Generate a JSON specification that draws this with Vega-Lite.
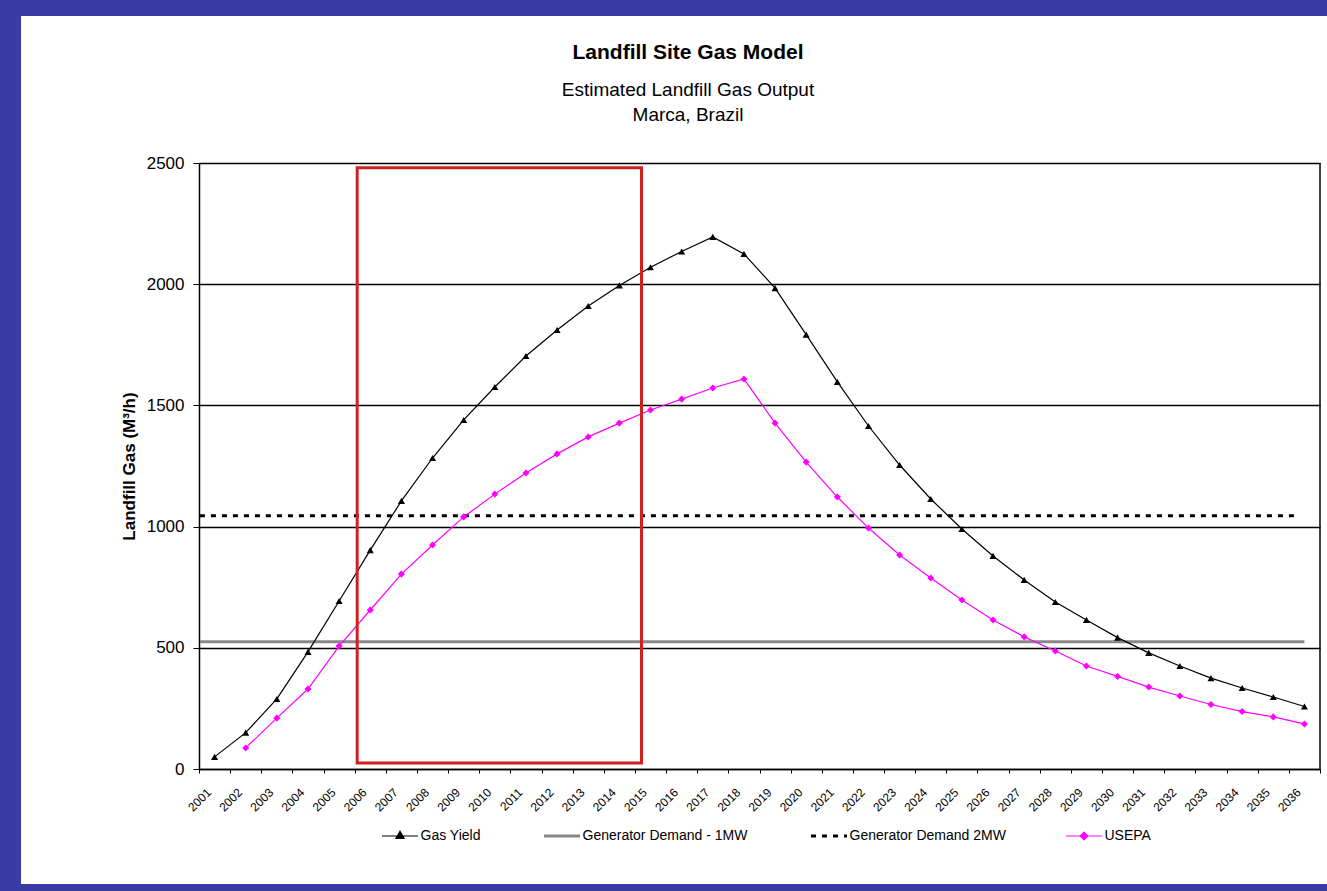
{
  "$schema": "https://vega.github.io/schema/vega-lite/v6.json",
  "width": 1306,
  "height": 868,
  "autosize": {"type": "none"},
  "padding": {"left": 21, "top": 16, "right": 0, "bottom": 7},
  "background": "#3B3BA6",
  "config": {
    "view": {"fill": "#FFFFFF", "stroke": null},
    "font": "Liberation Sans"
  },
  "title": {
    "text": "Landfill Site Gas Model",
    "subtitle": ["Estimated Landfill Gas Output", "Marca, Brazil"],
    "anchor": "middle",
    "frame": "group",
    "offset": -109,
    "dx": 14,
    "font": "Liberation Sans",
    "fontSize": 21,
    "fontWeight": "bold",
    "color": "#000000",
    "subtitleFont": "Liberation Sans",
    "subtitleFontSize": 19,
    "subtitleColor": "#000000",
    "subtitlePadding": 18,
    "subtitleLineHeight": 25
  },
  "datasets": {
    "series": [
      {"year": "2001", "series": "Gas Yield", "value": 50},
      {"year": "2002", "series": "Gas Yield", "value": 150},
      {"year": "2003", "series": "Gas Yield", "value": 289},
      {"year": "2004", "series": "Gas Yield", "value": 483},
      {"year": "2005", "series": "Gas Yield", "value": 693},
      {"year": "2006", "series": "Gas Yield", "value": 903},
      {"year": "2007", "series": "Gas Yield", "value": 1106},
      {"year": "2008", "series": "Gas Yield", "value": 1283},
      {"year": "2009", "series": "Gas Yield", "value": 1440},
      {"year": "2010", "series": "Gas Yield", "value": 1576},
      {"year": "2011", "series": "Gas Yield", "value": 1704},
      {"year": "2012", "series": "Gas Yield", "value": 1811},
      {"year": "2013", "series": "Gas Yield", "value": 1910},
      {"year": "2014", "series": "Gas Yield", "value": 1995},
      {"year": "2015", "series": "Gas Yield", "value": 2070},
      {"year": "2016", "series": "Gas Yield", "value": 2135},
      {"year": "2017", "series": "Gas Yield", "value": 2195},
      {"year": "2018", "series": "Gas Yield", "value": 2125},
      {"year": "2019", "series": "Gas Yield", "value": 1984},
      {"year": "2020", "series": "Gas Yield", "value": 1792},
      {"year": "2021", "series": "Gas Yield", "value": 1597},
      {"year": "2022", "series": "Gas Yield", "value": 1415},
      {"year": "2023", "series": "Gas Yield", "value": 1254},
      {"year": "2024", "series": "Gas Yield", "value": 1114},
      {"year": "2025", "series": "Gas Yield", "value": 990},
      {"year": "2026", "series": "Gas Yield", "value": 879},
      {"year": "2027", "series": "Gas Yield", "value": 780},
      {"year": "2028", "series": "Gas Yield", "value": 689},
      {"year": "2029", "series": "Gas Yield", "value": 615},
      {"year": "2030", "series": "Gas Yield", "value": 542},
      {"year": "2031", "series": "Gas Yield", "value": 479},
      {"year": "2032", "series": "Gas Yield", "value": 425},
      {"year": "2033", "series": "Gas Yield", "value": 375},
      {"year": "2034", "series": "Gas Yield", "value": 334},
      {"year": "2035", "series": "Gas Yield", "value": 297},
      {"year": "2036", "series": "Gas Yield", "value": 258},
      {"year": "2002", "series": "USEPA", "value": 87},
      {"year": "2003", "series": "USEPA", "value": 210},
      {"year": "2004", "series": "USEPA", "value": 330},
      {"year": "2005", "series": "USEPA", "value": 507},
      {"year": "2006", "series": "USEPA", "value": 656},
      {"year": "2007", "series": "USEPA", "value": 804},
      {"year": "2008", "series": "USEPA", "value": 924},
      {"year": "2009", "series": "USEPA", "value": 1040},
      {"year": "2010", "series": "USEPA", "value": 1134},
      {"year": "2011", "series": "USEPA", "value": 1221},
      {"year": "2012", "series": "USEPA", "value": 1300},
      {"year": "2013", "series": "USEPA", "value": 1370},
      {"year": "2014", "series": "USEPA", "value": 1427},
      {"year": "2015", "series": "USEPA", "value": 1481},
      {"year": "2016", "series": "USEPA", "value": 1526},
      {"year": "2017", "series": "USEPA", "value": 1572},
      {"year": "2018", "series": "USEPA", "value": 1609},
      {"year": "2019", "series": "USEPA", "value": 1427},
      {"year": "2020", "series": "USEPA", "value": 1266},
      {"year": "2021", "series": "USEPA", "value": 1122},
      {"year": "2022", "series": "USEPA", "value": 994},
      {"year": "2023", "series": "USEPA", "value": 883},
      {"year": "2024", "series": "USEPA", "value": 788},
      {"year": "2025", "series": "USEPA", "value": 697},
      {"year": "2026", "series": "USEPA", "value": 615},
      {"year": "2027", "series": "USEPA", "value": 545},
      {"year": "2028", "series": "USEPA", "value": 487},
      {"year": "2029", "series": "USEPA", "value": 425},
      {"year": "2030", "series": "USEPA", "value": 382},
      {"year": "2031", "series": "USEPA", "value": 338},
      {"year": "2032", "series": "USEPA", "value": 301},
      {"year": "2033", "series": "USEPA", "value": 266},
      {"year": "2034", "series": "USEPA", "value": 237},
      {"year": "2035", "series": "USEPA", "value": 215},
      {"year": "2036", "series": "USEPA", "value": 186}
    ],
    "demand": [
      {"series": "Generator Demand - 1MW", "start": "2001", "end": "2036", "value": 525},
      {"series": "Generator Demand 2MW", "start": "2001", "end": "2036", "value": 1045}
    ],
    "highlight": [
      {"start": "2006", "end": "2015", "low": 25, "high": 2480}
    ],
    "frame": [
      {"year": "2036", "low": 0, "high": 2500}
    ]
  },
  "layer": [
    {
      "data": {"name": "demand"},
      "transform": [{"filter": "datum.series === 'Generator Demand - 1MW'"}],
      "mark": {"type": "rule", "strokeWidth": 3},
      "encoding": {
        "x": {
          "field": "start", "type": "ordinal", "bandPosition": 0.03,
          "scale": {"type": "band", "paddingInner": 0, "paddingOuter": 0, "range": [178, 1299]},
          "axis": {
            "title": null, "orient": "bottom", "offset": -115, "tickBand": "extent",
            "labelAngle": -45, "labelAlign": "right", "labelBaseline": "middle",
            "labelOffset": -6, "labelPadding": 17, "labelFontSize": 12, "labelColor": "#000000",
            "labelOverlap": false, "tickSize": 4, "tickColor": "#000000",
            "domainColor": "#000000", "domainWidth": 1.5, "grid": false
          }
        },
        "x2": {"field": "end"},
        "y": {
          "field": "value", "type": "quantitative",
          "scale": {"domain": [0, 2500], "range": [753, 147], "nice": false},
          "axis": {
            "title": "Landfill Gas (M³/h)", "orient": "left", "offset": -178,
            "values": [0, 500, 1000, 1500, 2000, 2500], "format": "d",
            "grid": true, "gridColor": "#000000", "gridWidth": 1.4, "gridOpacity": 1,
            "tickSize": 6, "tickColor": "#000000",
            "domainColor": "#000000", "domainWidth": 1.5,
            "labelFontSize": 17, "labelColor": "#000000", "labelPadding": 9,
            "titleFontSize": 17, "titleFontWeight": "bold", "titleColor": "#000000", "titlePadding": 8
          }
        },
        "color": {
          "field": "series", "type": "nominal",
          "scale": {
            "domain": ["Gas Yield", "Generator Demand - 1MW", "Generator Demand 2MW", "USEPA"],
            "range": ["#000000", "#888888", "#000000", "#FF00FF"]
          },
          "legend": {
            "title": null, "orient": "none", "legendX": 372, "legendY": 813,
            "direction": "horizontal", "columns": 4, "columnPadding": 57,
            "symbolSize": 1296, "labelFontSize": 14, "labelColor": "#000000", "labelOffset": 13.5,
            "labelFont": "Liberation Sans", "labelLimit": 0,
            "encode": {
              "symbols": {
                "update": {
                  "shape": {"signal": "datum.value === 'Gas Yield' ? 'M-1,0L1,0M0,-0.26L0.23,0.14L-0.23,0.14Z' : datum.value === 'USEPA' ? 'M-1,0L1,0M0,-0.21L0.21,0L0,0.21L-0.21,0Z' : 'M-1,0L1,0'"},
                  "fill": {"signal": "datum.value === 'Gas Yield' ? '#000000' : datum.value === 'USEPA' ? '#FF00FF' : 'transparent'"},
                  "fillOpacity": {"value": 1},
                  "stroke": {"signal": "datum.value === 'USEPA' ? '#FF00FF' : datum.value === 'Generator Demand - 1MW' ? '#888888' : '#000000'"},
                  "strokeWidth": {"signal": "datum.value === 'Generator Demand - 1MW' || datum.value === 'Generator Demand 2MW' ? 3 : 1.2"},
                  "strokeDash": {"signal": "datum.value === 'Generator Demand 2MW' ? [5, 6] : [1, 0]"},
                  "opacity": {"value": 1}
                }
              }
            }
          }
        }
      }
    },
    {
      "data": {"name": "demand"},
      "transform": [{"filter": "datum.series === 'Generator Demand 2MW'"}],
      "mark": {"type": "rule", "strokeWidth": 3, "strokeDash": [5, 6], "x2Offset": -8},
      "encoding": {
        "x": {"field": "start", "type": "ordinal", "bandPosition": 0.03},
        "x2": {"field": "end"},
        "y": {"field": "value", "type": "quantitative"},
        "color": {"field": "series", "type": "nominal"}
      }
    },
    {
      "data": {"name": "frame"},
      "mark": {"type": "rule", "strokeWidth": 1.5, "color": "#000000"},
      "encoding": {
        "x": {"field": "year", "type": "ordinal", "bandPosition": 1},
        "y": {"field": "low", "type": "quantitative"},
        "y2": {"field": "high"}
      }
    },
    {
      "data": {"name": "series"},
      "mark": {"type": "line", "strokeWidth": 1.2},
      "encoding": {
        "x": {"field": "year", "type": "ordinal"},
        "y": {"field": "value", "type": "quantitative"},
        "color": {"field": "series", "type": "nominal"}
      }
    },
    {
      "data": {"name": "series"},
      "mark": {"type": "point", "filled": true, "opacity": 1, "size": 50},
      "encoding": {
        "x": {"field": "year", "type": "ordinal"},
        "y": {"field": "value", "type": "quantitative"},
        "color": {"field": "series", "type": "nominal"},
        "shape": {
          "field": "series", "type": "nominal",
          "scale": {"domain": ["Gas Yield", "USEPA"], "range": ["triangle-up", "diamond"]},
          "legend": null
        }
      }
    },
    {
      "data": {"name": "highlight"},
      "mark": {"type": "rect", "fillOpacity": 0, "stroke": "#D21F1F", "strokeWidth": 3, "x2Offset": -9},
      "encoding": {
        "x": {"field": "start", "type": "ordinal", "bandPosition": 0.08},
        "x2": {"field": "end"},
        "y": {"field": "low", "type": "quantitative"},
        "y2": {"field": "high"}
      }
    }
  ]
}
